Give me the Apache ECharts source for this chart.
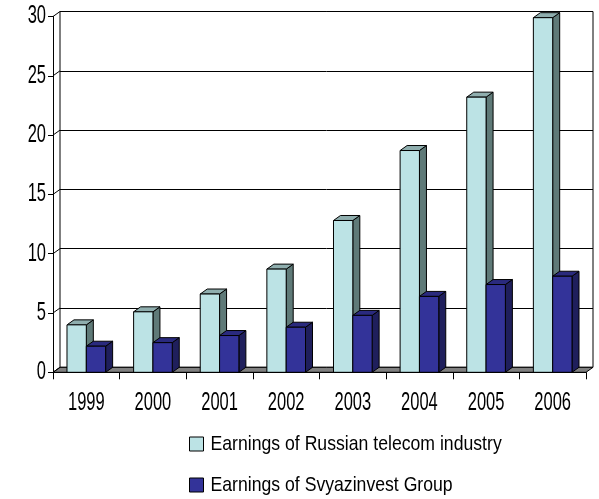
<!DOCTYPE html>
<html>
<head>
<meta charset="utf-8">
<script src="https://cdn.jsdelivr.net/npm/echarts@6/dist/echarts.min.js"></script>
<style>
  html, body { margin: 0; padding: 0; background: #fff; }
  #chart { width: 599px; height: 499px; }
</style>
</head>
<body>
<div id="chart"></div>
<script>
// Yearly earnings (billion USD)
const years = ['1999', '2000', '2001', '2002', '2003', '2004', '2005', '2006'];
const telecomEarnings = [4.0, 5.1, 6.6, 8.7, 12.8, 18.7, 23.2, 29.9];
const svyazinvestEarnings = [2.2, 2.5, 3.1, 3.8, 4.8, 6.4, 7.4, 8.1];
const yTicks = [0, 5, 10, 15, 20, 25, 30];
const seriesNames = ['Earnings of Russian telecom industry', 'Earnings of Svyazinvest Group'];

const FONT = "'Liberation Sans', Arial, sans-serif";
// condensed look: horizontally squeezed text
const AXIS_FONT_SIZE = 25, AXIS_SCALE_X = 0.66;
const LEGEND_FONT_SIZE = 21, LEGEND_SCALE_X = 0.84;
// pseudo-3D depth offset in pixels
const DX = 7, DY = -5;

const palettes = [
  { front: '#BCE3E5', top: '#8FAEAE', side: '#5F7A78' },
  { front: '#333399', top: '#2A2A7E', side: '#1F1F5C' }
];

function barRenderer(sIdx) {
  return function (params, api) {
    const i = api.value(0);
    const v = api.value(1);
    const base = api.coord([i, 0]);
    const top = api.coord([i, v]);
    const band = api.size([1, 0])[0];
    const w = band * 0.29;
    const x0 = sIdx === 0 ? base[0] - w : base[0];
    const x1 = x0 + w;
    const yb = base[1], yt = top[1];
    const p = palettes[sIdx];
    const stroke = { stroke: '#000', lineWidth: 1 };
    return {
      type: 'group',
      children: [
        {
          type: 'polygon',
          shape: { points: [[x1, yb], [x1 + DX, yb + DY], [x1 + DX, yt + DY], [x1, yt]] },
          style: Object.assign({ fill: p.side }, stroke)
        },
        {
          type: 'polygon',
          shape: { points: [[x0, yt], [x1, yt], [x1 + DX, yt + DY], [x0 + DX, yt + DY]] },
          style: Object.assign({ fill: p.top }, stroke)
        },
        {
          type: 'rect',
          shape: { x: x0, y: yt, width: w, height: yb - yt },
          style: Object.assign({ fill: p.front }, stroke)
        }
      ]
    };
  };
}

function squeezedText(text, x, y, align, size, scaleX) {
  return {
    type: 'text',
    x: x, y: y,
    scaleX: scaleX,
    style: {
      text: text,
      fill: '#000',
      fontFamily: FONT,
      fontSize: size,
      align: align,
      verticalAlign: 'middle'
    }
  };
}

const chart = echarts.init(document.getElementById('chart'));

chart.setOption({
  animation: false,
  backgroundColor: '#fff',
  grid: [
    // front plane: axes and bars
    { left: 53, right: 13, top: 16.5, bottom: 126.7 },
    // back wall: gridlines
    { left: 53 + DX, right: 13 - DX, top: 16.5 + DY, bottom: 126.7 - DY,
      show: true, borderColor: '#000', borderWidth: 1, backgroundColor: 'transparent' }
  ],
  xAxis: [
    {
      type: 'category', gridIndex: 0, data: years, boundaryGap: true,
      axisLine: { show: true, lineStyle: { color: '#000', width: 1 } },
      axisTick: { show: true, length: 7, lineStyle: { color: '#000' }, interval: 0 },
      axisLabel: { show: false },
      splitLine: { show: false },
      z: 5
    },
    {
      type: 'category', gridIndex: 1, data: years, show: false
    }
  ],
  yAxis: [
    {
      type: 'value', gridIndex: 0, min: 0, max: 30, interval: 5,
      axisLine: { show: true, lineStyle: { color: '#000', width: 1 } },
      axisTick: { show: true, length: 5, lineStyle: { color: '#000' } },
      axisLabel: { show: false },
      splitLine: { show: false }
    },
    {
      type: 'value', gridIndex: 1, min: 0, max: 30, interval: 5,
      axisLine: { show: false },
      axisTick: { show: false },
      axisLabel: { show: false },
      splitLine: { show: true, lineStyle: { color: '#000', width: 1 } }
    }
  ],
  // legend: swatches with condensed captions
  graphic: seriesNames.map((n, k) => ({
    type: 'group',
    left: 189,
    top: 434 + k * 41,
    children: [
      { type: 'rect', shape: { x: 0, y: 0, width: 14, height: 14 },
        style: { fill: palettes[k].front, stroke: '#000', lineWidth: 1 } },
      squeezedText(n, 21, 7.5, 'left', LEGEND_FONT_SIZE, LEGEND_SCALE_X)
    ]
  })),
  series: [
    {
      // floor of the plot box and the connecting edges of the left wall
      type: 'custom',
      xAxisIndex: 0, yAxisIndex: 0,
      silent: true,
      z: 1,
      data: yTicks.map(t => [0, t]),
      renderItem: function (params, api) {
        const cs = params.coordSys;
        const t = api.value(1);
        const y = api.coord([0, t])[1];
        const x = cs.x;
        const children = [
          { type: 'line', shape: { x1: x, y1: y, x2: x + DX, y2: y + DY },
            style: { stroke: '#000', lineWidth: 1 } },
          // value-axis tick label
          squeezedText(String(t), x - 7, y, 'right', AXIS_FONT_SIZE, AXIS_SCALE_X)
        ];
        if (t === 0) {
          children.unshift({
            type: 'polygon',
            shape: { points: [[x, y], [x + cs.width, y], [x + cs.width + DX, y + DY], [x + DX, y + DY]] },
            style: { fill: '#808080', stroke: '#000', lineWidth: 1 }
          });
        }
        return { type: 'group', children: children };
      }
    },
    {
      // category-axis labels
      type: 'custom',
      xAxisIndex: 0, yAxisIndex: 0,
      silent: true,
      z: 5,
      data: years.map((y, i) => [i, 0]),
      renderItem: function (params, api) {
        const i = api.value(0);
        const p = api.coord([i, 0]);
        return squeezedText(years[i], p[0], p[1] + 31, 'center', AXIS_FONT_SIZE, AXIS_SCALE_X);
      }
    },
    {
      name: seriesNames[0],
      type: 'custom',
      xAxisIndex: 0, yAxisIndex: 0,
      z: 3,
      itemStyle: { color: palettes[0].front },
      data: telecomEarnings.map((v, i) => [i, v]),
      encode: { x: 0, y: 1 },
      renderItem: barRenderer(0)
    },
    {
      name: seriesNames[1],
      type: 'custom',
      xAxisIndex: 0, yAxisIndex: 0,
      z: 4,
      itemStyle: { color: palettes[1].front },
      data: svyazinvestEarnings.map((v, i) => [i, v]),
      encode: { x: 0, y: 1 },
      renderItem: barRenderer(1)
    }
  ]
});
</script>
</body>
</html>
